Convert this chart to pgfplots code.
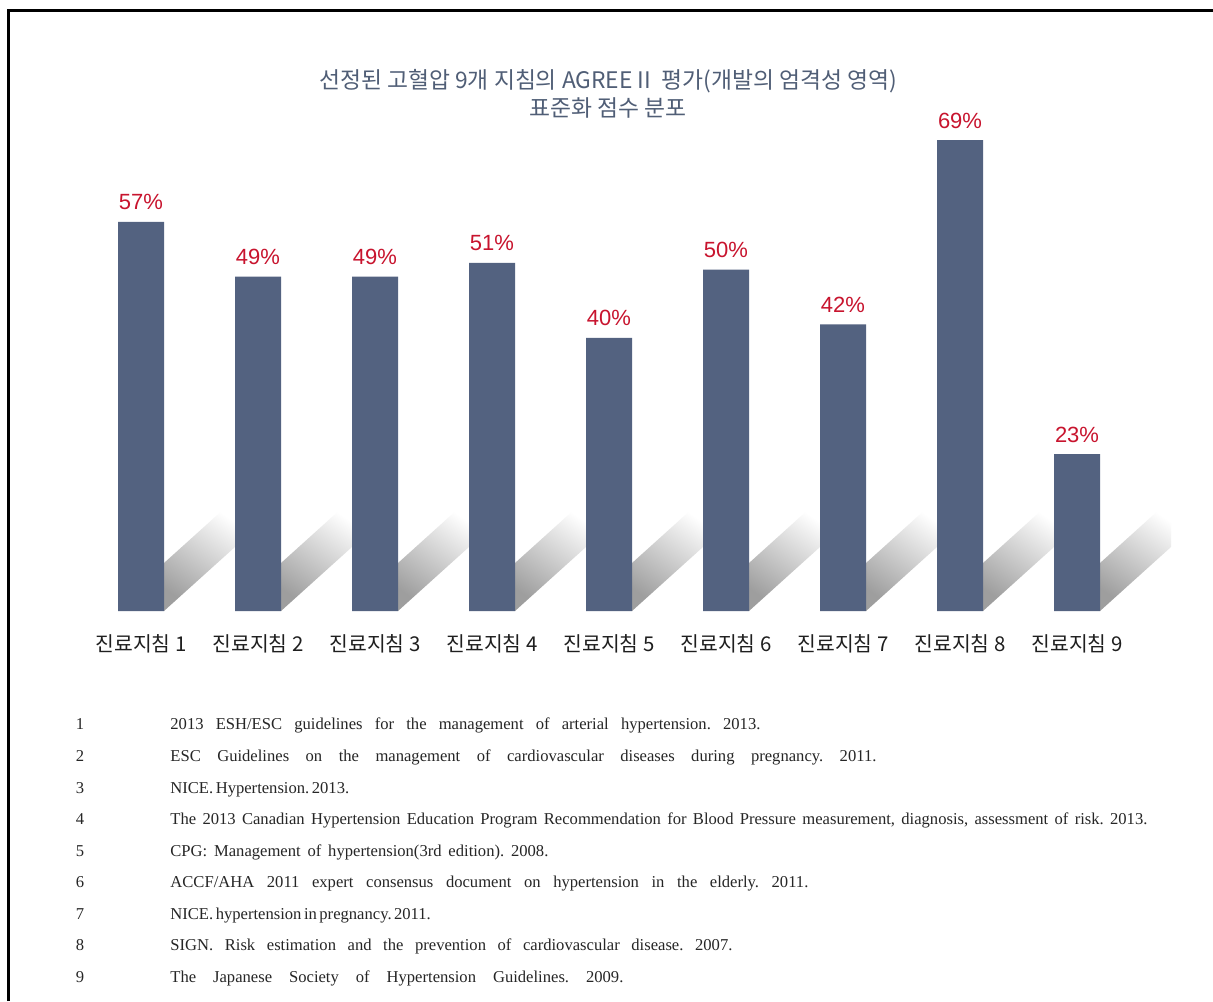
\documentclass[border=0pt]{standalone}
\usepackage{pgfplots}
\pgfplotsset{compat=1.18}
\usepackage{fontspec}
\setmainfont{Liberation Serif}
\newfontfamily\kr{Noto Sans CJK KR}
\newfontfamily\lsans{Liberation Sans}
\definecolor{barc}{HTML}{536280}
\definecolor{labred}{HTML}{C8142E}
\definecolor{titc}{HTML}{505E76}
\newcommand\fn[5]{%
  \node[anchor=base, inner sep=0pt, font=\fontsize{8.3}{10}\selectfont, text=black!85] at (80,#1) {#2};
  \node[anchor=base west, inner sep=0pt, font=\fontsize{8.3}{10}\selectfont, text=black!85] at (170,#1) {\hbox to #3pt{\frenchspacing\spaceskip=#4em plus 3em minus .15em\relax #5}};}
\begin{document}
\begin{tikzpicture}[x=0.5pt,y=0.5pt]
\path[use as bounding box, fill=white] (0,0) rectangle (1213,1001);
\draw[line width=1.5pt] (8,0) -- (8,990.5) -- (1213,990.5);
\node[font=\kr\fontsize{11.4}{14}\selectfont, text=titc, align=center] at (608,907) {선정된 고혈압 9개 지침의 AGREE II \ 평가(개발의 엄격성 영역)\\표준화 점수 분포};
\begin{axis}[at={(12pt,195pt)}, anchor=south west, scale only axis,
  width=585pt, height=273pt, xmin=0, xmax=10, ymin=0, ymax=80,
  axis line style={draw=none}, major tick length=0pt, ytick=\empty,
  xtick={1,...,9},
  xticklabels={진료지침 1,진료지침 2,진료지침 3,진료지침 4,진료지침 5,진료지침 6,진료지침 7,진료지침 8,진료지침 9},
  xticklabel style={font=\kr\fontsize{10.2}{12}\selectfont, text=black!88, anchor=base, yshift=-20pt},
  ybar, bar width=23pt, clip=false,
  nodes near coords={\pgfmathprintnumber[assume math mode=true]{\pgfplotspointmeta}\%},
  nodes near coords style={font=\lsans\fontsize{11}{13}\selectfont, text=labred, anchor=base, yshift=6pt},
]
\pgfplotsinvokeforeach{1,...,9}{
  \shade[bottom color=black!38, top color=white, shading angle=-35]
    (axis cs:#1+0.1966,0) -- (axis cs:#1+0.8034,9.38) -- (axis cs:#1+0.8034,16.41) -- (axis cs:#1+0.1966,7.03) -- cycle;
}
\addplot[fill=barc, draw=none] coordinates {(1,57) (2,49) (3,49) (4,51) (5,40) (6,50) (7,42) (8,69) (9,23)};
\end{axis}
\fn{272}{1}{295}{.42}{2013 ESH/ESC guidelines for the management of arterial hypertension. 2013.}
\fn{240}{2}{353}{.42}{ESC Guidelines on the management of cardiovascular diseases during pregnancy. 2011.}
\fn{208}{3}{81}{.3}{NICE. Hypertension. 2013.}
\fn{177}{4}{488.5}{.25}{The 2013 Canadian Hypertension Education Program Recommendation for Blood Pressure measurement, diagnosis, assessment of risk. 2013.}
\fn{145}{5}{189}{.42}{CPG: Management of hypertension(3rd edition). 2008.}
\fn{114}{6}{319}{.42}{ACCF/AHA 2011 expert consensus document on hypertension in the elderly. 2011.}
\fn{82}{7}{127.5}{.3}{NICE. hypertension in pregnancy. 2011.}
\fn{51}{8}{281}{.42}{SIGN. Risk estimation and the prevention of cardiovascular disease. 2007.}
\fn{19}{9}{226.5}{.42}{The Japanese Society of Hypertension Guidelines. 2009.}
\end{tikzpicture}
\end{document}
